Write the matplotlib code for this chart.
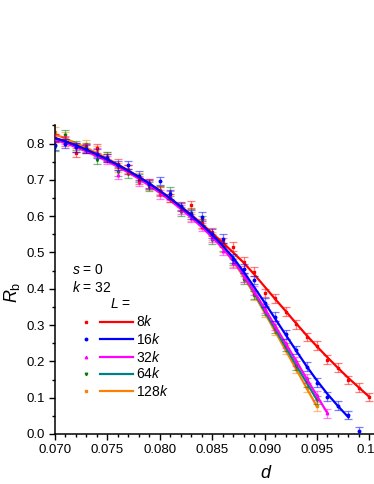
import matplotlib
matplotlib.use("Agg")
import matplotlib.pyplot as plt
from matplotlib.lines import Line2D
from matplotlib.ticker import MultipleLocator

plt.rcParams['font.family'] = ['Liberation Sans', 'DejaVu Sans']
plt.rcParams['mathtext.fontset'] = 'custom'
plt.rcParams['mathtext.rm'] = 'Liberation Sans'
plt.rcParams['mathtext.it'] = 'Liberation Sans:italic'

# measured points, d = 0.070 ... step 0.001
d_8k = [0.070, 0.071, 0.072, 0.073, 0.074, 0.075, 0.076, 0.077, 0.078, 0.079, 0.080,
        0.081, 0.082, 0.083, 0.084, 0.085, 0.086, 0.087, 0.088, 0.089, 0.090,
        0.091, 0.092, 0.093, 0.094, 0.095, 0.096, 0.097, 0.098, 0.099, 0.100]
rb_8k = [0.815, 0.805, 0.775, 0.787, 0.787, 0.760, 0.745, 0.728, 0.700, 0.690, 0.668,
         0.650, 0.625, 0.631, 0.580, 0.556, 0.528, 0.516, 0.475, 0.447, 0.388,
         0.374, 0.337, 0.302, 0.267, 0.243, 0.205, 0.183, 0.149, 0.128, 0.102]
d_16k = d_8k[:30]
rb_16k = [0.795, 0.800, 0.790, 0.785, 0.772, 0.760, 0.740, 0.741, 0.712, 0.688, 0.697,
          0.660, 0.628, 0.605, 0.599, 0.552, 0.538, 0.483, 0.455, 0.424, 0.362,
          0.323, 0.275, 0.231, 0.185, 0.141, 0.103, 0.078, 0.052, 0.008]
d_32k = d_8k[:27]
rb_32k = [0.815, 0.810, 0.790, 0.787, 0.775, 0.755, 0.714, 0.728, 0.695, 0.690, 0.660,
          0.656, 0.618, 0.595, 0.570, 0.540, 0.505, 0.470, 0.432, 0.395, 0.345,
          0.298, 0.250, 0.200, 0.153, 0.107, 0.057]
d_64k = d_8k[:26]
rb_64k = [0.791, 0.824, 0.795, 0.790, 0.755, 0.764, 0.723, 0.717, 0.705, 0.681, 0.670,
          0.667, 0.612, 0.610, 0.589, 0.535, 0.515, 0.478, 0.424, 0.383, 0.340,
          0.290, 0.240, 0.188, 0.142, 0.094]
d_128k = d_8k[:26]
rb_128k = [0.833, 0.820, 0.790, 0.799, 0.780, 0.764, 0.735, 0.730, 0.708, 0.685, 0.672,
           0.650, 0.625, 0.600, 0.578, 0.545, 0.512, 0.472, 0.430, 0.382, 0.335,
           0.284, 0.232, 0.180, 0.128, 0.076]
err = 0.012

# fitted curves
fd_8k = d_8k
fit_8k = [0.815, 0.806, 0.795, 0.783, 0.770, 0.756, 0.741, 0.725, 0.708, 0.690, 0.670,
          0.649, 0.627, 0.604, 0.579, 0.553, 0.527, 0.500, 0.472, 0.440, 0.406,
          0.372, 0.339, 0.305, 0.272, 0.241, 0.211, 0.182, 0.154, 0.128, 0.102]
fd_16k = d_8k[:29]
fit_16k = [0.815, 0.806, 0.795, 0.783, 0.770, 0.756, 0.741, 0.725, 0.708, 0.690, 0.670,
           0.649, 0.626, 0.602, 0.577, 0.549, 0.519, 0.486, 0.447, 0.405, 0.362,
           0.318, 0.274, 0.230, 0.187, 0.147, 0.110, 0.077, 0.046]
fd_32k = d_32k
fit_32k = [0.810, 0.801, 0.790, 0.778, 0.765, 0.751, 0.736, 0.720, 0.703, 0.684, 0.664,
           0.643, 0.620, 0.596, 0.570, 0.542, 0.512, 0.478, 0.438, 0.393, 0.346,
           0.298, 0.250, 0.202, 0.153, 0.105, 0.057]
fd_64k = d_64k
fit_64k = [0.814, 0.805, 0.794, 0.782, 0.769, 0.755, 0.740, 0.724, 0.707, 0.688, 0.668,
           0.647, 0.624, 0.600, 0.574, 0.546, 0.515, 0.480, 0.438, 0.390, 0.339,
           0.290, 0.240, 0.190, 0.142, 0.094]
fd_128k = d_128k
fit_128k = [0.825, 0.814, 0.801, 0.788, 0.774, 0.759, 0.743, 0.726, 0.708, 0.689, 0.668,
            0.646, 0.623, 0.598, 0.572, 0.543, 0.512, 0.476, 0.433, 0.385, 0.334,
            0.283, 0.231, 0.179, 0.127, 0.075]

labels = ['8$k$', '16$k$', '32$k$', '64$k$', '128$k$']
pt_colors = ['#ff0000', '#0000ff', '#ff00ff', '#007a00', '#ff8000']
line_colors = ['#ff0000', '#0000ff', '#ff00ff', '#008080', '#ff8000']
markers = ['s', 'o', '^', 'v', 's']
zorders = [4, 5, 3, 2, 1]

series = [(d_8k, rb_8k, fd_8k, fit_8k), (d_16k, rb_16k, fd_16k, fit_16k),
          (d_32k, rb_32k, fd_32k, fit_32k), (d_64k, rb_64k, fd_64k, fit_64k),
          (d_128k, rb_128k, fd_128k, fit_128k)]

W, H = 374, 484
fig = plt.figure(figsize=(W / 100, H / 100), dpi=100)
# axes goes past the right edge of the picture (cropped original)
ax = fig.add_axes([55 / W, 50 / H, 419.2 / W, 308.6 / H])

for (d, rb, fd, fit), pc, lc, m, z in zip(series, pt_colors, line_colors, markers, zorders):
    ax.errorbar(d, rb, yerr=err, fmt='none', ecolor=pc, alpha=0.5, elinewidth=0.9,
                capsize=3, capthick=0.9, zorder=z)
    ax.plot(d, rb, ls='none', marker=m, ms=1.8, color=pc, zorder=z + 0.5)
    ax.plot(fd, fit, color=lc, lw=1.6, zorder=z + 0.2)

ax.set_xlim(0.070, 0.110)
ax.set_ylim(0.0, 0.85)
ax.xaxis.set_major_locator(MultipleLocator(0.005))
ax.xaxis.set_minor_locator(MultipleLocator(0.001))
ax.yaxis.set_major_locator(MultipleLocator(0.1))
ax.yaxis.set_minor_locator(MultipleLocator(0.05))
ax.xaxis.set_major_formatter(plt.FuncFormatter(lambda v, p: '%.3f' % v if v < 0.0995 else '%.2f' % v))
ax.yaxis.set_major_formatter(plt.FuncFormatter(lambda v, p: '%.1f' % v))
ax.tick_params(which='both', direction='out', labelsize=9.5, width=1.0)
ax.tick_params(which='major', length=4, pad=3)
ax.tick_params(which='minor', length=2.2)
for s in ['top', 'right']:
    ax.spines[s].set_visible(False)
for s in ['left', 'bottom']:
    ax.spines[s].set_linewidth(1.1)


def fx(x):
    return x / W


def fy(y):
    return 1 - y / H


fig.text(fx(12), fy(292), r'$R_{\rm b}$', rotation=90, fontsize=13, ha='center', va='center')
fig.text(fx(266), fy(474), r'$d$', fontsize=13, ha='center', va='center')

fig.text(fx(72), fy(270), r'$s$ = 0', fontsize=10, va='center')
fig.text(fx(72), fy(288), r'$k$ = 32', fontsize=10, va='center')
fig.text(fx(110), fy(304), r'$L$ =', fontsize=10, va='center')
rows = [322, 339, 357, 374, 391]
for yy, lab, pc, lc, m in zip(rows, labels, pt_colors, line_colors, markers):
    fig.add_artist(Line2D([fx(86)], [fy(yy)], ls='none', marker=m, ms=1.8, color=pc))
    fig.add_artist(Line2D([fx(100), fx(133)], [fy(yy), fy(yy)], color=lc, lw=1.6))
    fig.text(fx(136), fy(yy), lab, fontsize=10, va='center')

fig.savefig('out.png', dpi=100)
